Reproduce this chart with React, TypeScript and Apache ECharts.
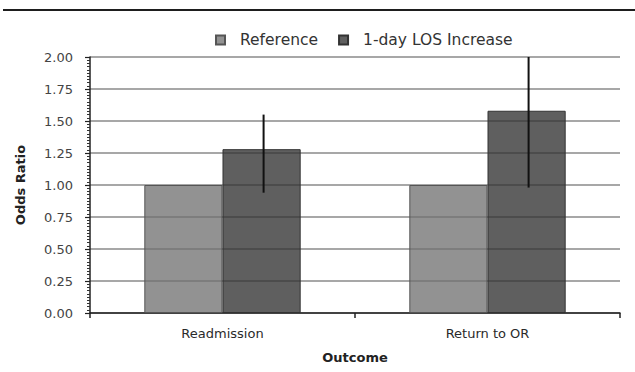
import React, { useEffect, useRef } from "react";
import * as echarts from "echarts";

const categories = ["Readmission", "Return to OR"];
const seriesNames = ["Reference", "1-day LOS Increase"];
const referenceValues = [1.0, 1.0];
const losValues = [1.28, 1.58];
const losLow = [0.94, 0.98];
const losHigh = [1.55, 2.0];
const yTicks = [0, 0.25, 0.5, 0.75, 1.0, 1.25, 1.5, 1.75, 2.0];

export default function App() {
  const ref = useRef<HTMLDivElement>(null);
  useEffect(() => {
    document.body.style.margin = "0";
    const chart = echarts.init(ref.current!, null, { renderer: "svg" });
    const font = "DejaVu Sans";
    const errData = categories.map((_, i) => [i, losLow[i], losHigh[i]]);
    const bw = 0.295;
    chart.setOption({
      animation: false,
      backgroundColor: "#ffffff",
      textStyle: { fontFamily: font },
      graphic: [
        {
          type: "line",
          shape: { x1: 3, y1: 10, x2: 635, y2: 10 },
          style: { stroke: "#1e1e1e", lineWidth: 2 },
        },
      ],
      legend: {
        top: 27,
        left: 210,
        itemWidth: 9,
        itemHeight: 9,
        itemGap: 20,
        icon: "rect",
        data: seriesNames,
        textStyle: { fontFamily: font, fontSize: 15.5, color: "#333", padding: [0, 0, 0, 10] },
      },
      grid: { left: 90, right: 15, top: 57, bottom: 59 },
      xAxis: {
        type: "category",
        data: categories,
        name: "Outcome",
        nameLocation: "middle",
        nameGap: 38,
        nameTextStyle: { fontFamily: font, fontSize: 13, fontWeight: "bold", color: "#222" },
        axisLine: { lineStyle: { color: "#222", width: 1.5 } },
        axisTick: { show: true, length: 5, lineStyle: { color: "#222", width: 1.5 } },
        axisLabel: { fontFamily: font, fontSize: 13, color: "#2a2a2a", margin: 14 },
      },
      yAxis: {
        type: "value",
        min: 0,
        max: 2,
        interval: 0.25,
        name: "Odds Ratio",
        nameLocation: "middle",
        nameGap: 63,
        nameRotate: 90,
        nameTextStyle: { fontFamily: font, fontSize: 13, fontWeight: "bold", color: "#222" },
        axisLine: { show: true, lineStyle: { color: "#222", width: 1.5 } },
        axisTick: { show: true, length: 5, lineStyle: { color: "#222", width: 1.2 } },
        minorTick: { show: true, splitNumber: 10, length: 3, lineStyle: { color: "#333", width: 1 } },
        axisLabel: {
          fontFamily: font,
          fontSize: 13,
          color: "#444",
          margin: 17,
          formatter: (v: number) => {
            const t = yTicks.find((x) => Math.abs(x - v) < 1e-9);
            return (t ?? v).toFixed(2);
          },
        },
        splitLine: { show: true, lineStyle: { color: "#8a8a8a", width: 1.5 } },
      },
      series: [
        {
          name: seriesNames[0],
          type: "bar",
          data: referenceValues,
          barWidth: bw * 100 + "%",
          barGap: "0%",
          z: 3,
          itemStyle: { color: "rgba(112,112,112,0.76)", borderColor: "#555", borderWidth: 1 },
        },
        {
          name: seriesNames[1],
          type: "bar",
          data: losValues,
          barWidth: bw * 100 + "%",
          barGap: "0%",
          z: 3,
          itemStyle: { color: "rgba(50,50,50,0.78)", borderColor: "#333", borderWidth: 1 },
        },
        {
          type: "custom",
          name: "err",
          z: 5,
          silent: true,
          data: errData,
          renderItem: (params: any, api: any) => {
            const idx = api.value(0);
            const lo = api.coord([idx, api.value(1)]);
            const hi = api.coord([idx, api.value(2)]);
            const band = api.size([1, 0])[0];
            const x = lo[0] + (band * bw) / 2 + 2;
            return {
              type: "line",
              shape: { x1: x, y1: lo[1], x2: x, y2: hi[1] },
              style: { stroke: "#111", lineWidth: 2 },
            };
          },
        },
      ],
    });
    return () => chart.dispose();
  }, []);
  return <div ref={ref} style={{ width: 635, height: 372 }} />;
}
